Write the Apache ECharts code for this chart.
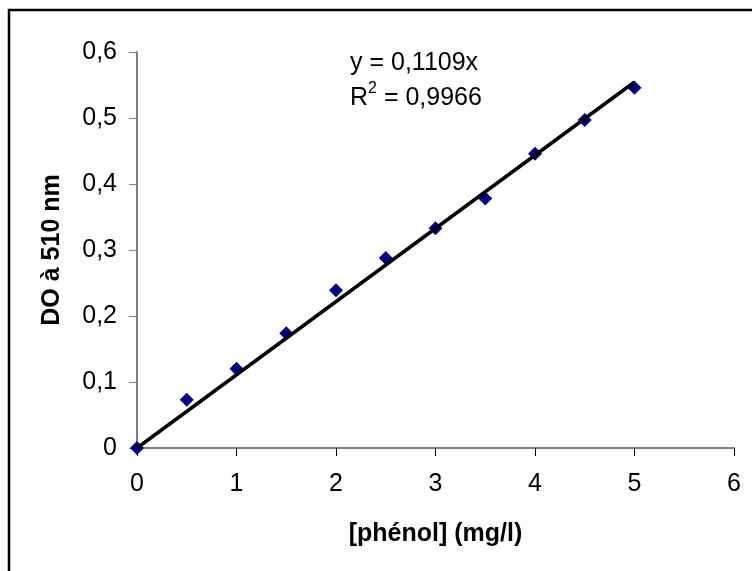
<!DOCTYPE html>
<html lang="fr" style="height: 100%">

<head>
    <meta charset="UTF-8">
    <title>DO à 510 nm - phénol</title>
    <script src="https://cdn.jsdelivr.net/npm/echarts@6/dist/echarts.min.js"></script>
</head>

<body style="height: 100%; margin: 0; background: #fff">
    <div id="main" style="width: 752px; height: 571px"></div>
    <script>
        // concentrations en phénol (mg/l) et DO mesurées
        var concentrations = [0, 0.5, 1, 1.5, 2, 2.5, 3, 3.5, 4, 4.5, 5];
        var absorbances = [0, 0.073, 0.12, 0.174, 0.239, 0.288, 0.333, 0.378, 0.446, 0.497, 0.546];
        // droite de tendance (extrémités)
        var trendX = [0, 5];
        var trendY = [0, 0.5545];
        var equationText = 'y = 0,1109x';
        var r2Text = ' = 0,9966';

        var police = '"Liberation Sans", Arial, sans-serif';

        var points = [];
        for (var i = 0; i < concentrations.length; i++) {
            points.push([concentrations[i], absorbances[i]]);
        }
        var tendance = [];
        for (var j = 0; j < trendX.length; j++) {
            tendance.push([trendX[j], trendY[j]]);
        }

        var myChart = echarts.init(document.getElementById('main'));

        var option = {
            animation: false,
            backgroundColor: '#fff',
            textStyle: { fontFamily: police },
            title: {
                left: 345,
                top: 41,
                text: '{a|' + equationText + '}\n{a|R}{sup|2}{a|' + r2Text + '}',
                textStyle: {
                    fontWeight: 'normal',
                    rich: {
                        a: { fontFamily: police, fontSize: 25, fontWeight: 'normal', color: '#000', lineHeight: 35 },
                        sup: { fontFamily: police, fontSize: 16, fontWeight: 'normal', color: '#000', lineHeight: 35, verticalAlign: 'top', padding: [0, 0, 10, 0] }
                    }
                }
            },
            graphic: [
                {
                    type: 'rect',
                    shape: { x: 9, y: 10, width: 900, height: 800 },
                    style: { fill: 'none', stroke: '#000', lineWidth: 2.5 },
                    silent: true
                }
            ],
            grid: {
                left: 137,
                right: 18,
                top: 52,
                bottom: 123
            },
            xAxis: {
                type: 'value',
                min: 0,
                max: 6,
                interval: 1,
                name: '[phénol] (mg/l)',
                nameLocation: 'middle',
                nameGap: 74,
                nameTextStyle: { fontFamily: police, fontSize: 25, fontWeight: 'bold', color: '#000' },
                axisLine: { show: true, lineStyle: { color: '#808080', width: 2 } },
                axisTick: { show: true, length: 8, lineStyle: { color: '#000', width: 1 } },
                axisLabel: { margin: 24, fontFamily: police, fontSize: 25, color: '#000' },
                splitLine: { show: false }
            },
            yAxis: {
                type: 'value',
                min: 0,
                max: 0.6,
                interval: 0.1,
                name: 'DO à 510 nm',
                nameLocation: 'middle',
                nameGap: 72,
                nameTextStyle: { fontFamily: police, fontSize: 25, fontWeight: 'bold', color: '#000' },
                axisLine: { show: true, lineStyle: { color: '#808080', width: 2 } },
                axisTick: { show: true, length: 8, lineStyle: { color: '#808080', width: 1 } },
                axisLabel: {
                    margin: 20,
                    fontFamily: police,
                    fontSize: 25,
                    color: '#000',
                    formatter: function (v) {
                        return String(Math.round(v * 10) / 10).replace('.', ',');
                    }
                },
                splitLine: { show: false }
            },
            series: [
                {
                    name: 'DO',
                    type: 'scatter',
                    data: points,
                    symbol: 'diamond',
                    symbolSize: 14,
                    itemStyle: { color: '#000080', opacity: 1 },
                    z: 2
                },
                {
                    name: 'Tendance',
                    type: 'line',
                    data: tendance,
                    showSymbol: false,
                    symbol: 'none',
                    lineStyle: { color: '#000', width: 3.5 },
                    z: 3
                }
            ]
        };

        myChart.setOption(option);
        window.addEventListener('resize', myChart.resize);
    </script>
</body>

</html>
